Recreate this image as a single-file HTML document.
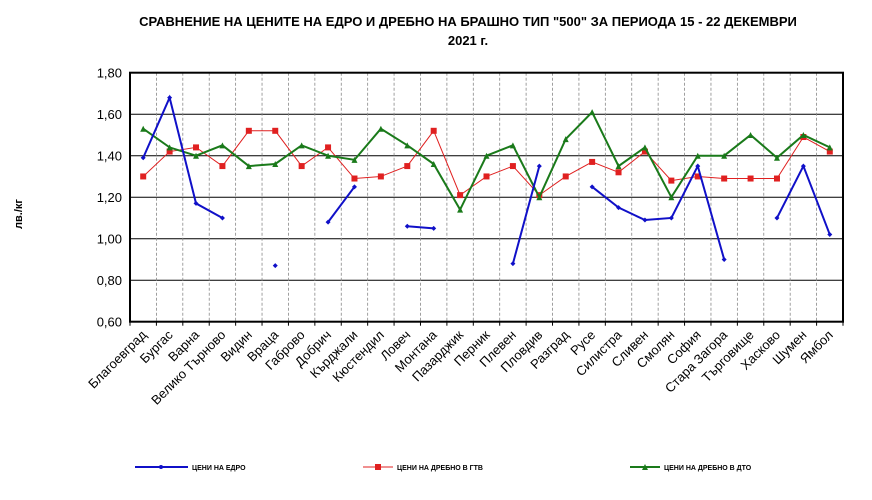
<!DOCTYPE html>
<html><head><meta charset="utf-8"><style>
body{margin:0;background:#fff;}
svg text{font-family:"Liberation Sans",Arial,sans-serif;}
</style></head><body>
<svg id="chart" width="872" height="495" xmlns="http://www.w3.org/2000/svg">
<text x="468" y="26" font-size="13" font-weight="bold" text-anchor="middle">СРАВНЕНИЕ НА ЦЕНИТЕ НА ЕДРО И ДРЕБНО НА БРАШНО ТИП "500" ЗА ПЕРИОДА 15 - 22 ДЕКЕМВРИ</text>
<text x="468" y="45" font-size="13" font-weight="bold" text-anchor="middle">2021 г.</text>
<text x="22" y="214" font-size="11" font-weight="bold" text-anchor="middle" transform="rotate(-90 22 214)">лв./кг</text>
<g id="grid"></g><g id="series"></g><g id="axes"></g>
<g font-size="7" font-weight="bold">
<line x1="135" y1="467" x2="188" y2="467" stroke="#1010c8" stroke-width="2"/><circle cx="161" cy="467" r="2" fill="#1010c8"/>
<text x="192" y="470">ЦЕНИ НА ЕДРО</text>
<line x1="363" y1="467" x2="393" y2="467" stroke="#e02020" stroke-width="1"/><rect x="375" y="464" width="6" height="6" fill="#e02020"/>
<text x="397" y="470">ЦЕНИ НА ДРЕБНО В ГТВ</text>
<line x1="630" y1="467" x2="660" y2="467" stroke="#1a7a1a" stroke-width="2"/><polygon points="645,464 648,470 642,470" fill="#1a7a1a"/>
<text x="664" y="470">ЦЕНИ НА ДРЕБНО В ДТО</text>
</g>
</svg>
<script>
const categories=["Благоевград","Бургас","Варна","Велико Търново","Видин","Враца","Габрово","Добрич","Кърджали","Кюстендил","Ловеч","Монтана","Пазарджик","Перник","Плевен","Пловдив","Разград","Русе","Силистра","Сливен","Смолян","София","Стара Загора","Търговище","Хасково","Шумен","Ямбол"];
const wholesale=[1.39,1.68,1.17,1.10,null,0.87,null,1.08,1.25,null,1.06,1.05,null,null,0.88,1.35,null,1.25,1.15,1.09,1.10,1.35,0.90,null,1.10,1.35,1.02];
const retailGTV=[1.30,1.42,1.44,1.35,1.52,1.52,1.35,1.44,1.29,1.30,1.35,1.52,1.21,1.30,1.35,1.21,1.30,1.37,1.32,1.42,1.28,1.30,1.29,1.29,1.29,1.49,1.42];
const retailDTO=[1.53,1.44,1.40,1.45,1.35,1.36,1.45,1.40,1.38,1.53,1.45,1.36,1.14,1.40,1.45,1.20,1.48,1.61,1.35,1.44,1.20,1.40,1.40,1.50,1.39,1.50,1.44];
const yTicks=[0.6,0.8,1.0,1.2,1.4,1.6,1.8];
const L=130,R=843,T=72.7,B=321.7,ymin=0.6,ymax=1.8;
const bw=(R-L)/categories.length;
const x=i=>L+bw*(i+0.5);
const y=v=>B-(v-ymin)/(ymax-ymin)*(B-T);
const NS="http://www.w3.org/2000/svg";
function mk(tag,attrs,parent){const e=document.createElementNS(NS,tag);for(const k in attrs)e.setAttribute(k,attrs[k]);document.getElementById(parent).appendChild(e);return e;}
yTicks.forEach(t=>{
 const l=mk('line',{x1:L,x2:R,y1:y(t),y2:y(t),stroke:'#000','stroke-width':1},'grid');
 
 
 const tx=mk('text',{x:L-8,y:y(t)+5,'font-size':13,'text-anchor':'end'},'axes');
 tx.textContent=t.toFixed(2).replace('.',',');
 
 
});
for(let i=1;i<categories.length;i++){
 const l=mk('line',{x1:L+bw*i,x2:L+bw*i,y1:T,y2:B,stroke:'#888','stroke-width':0.8,'stroke-dasharray':'3,2'},'grid');
 
 
}
for(let i=0;i<=categories.length;i++){mk('line',{x1:L+bw*i,x2:L+bw*i,y1:B,y2:B+4,stroke:'#000'},'axes');}
categories.forEach((c,i)=>{
 const tx=mk('text',{x:x(i)+4,y:B+14,'font-size':13,'text-anchor':'end',transform:`rotate(-45 ${x(i)+4} ${B+14})`},'axes');
 tx.textContent=c;
 
 
});
const fr=mk('rect',{x:L,y:T,width:R-L,height:B-T,fill:'none',stroke:'#000','stroke-width':2},'axes');


function drawSeries(vals,color,w,marker,name){
 let seg=[];
 const segs=[];
 vals.forEach((v,i)=>{if(v==null){if(seg.length)segs.push(seg);seg=[];}else seg.push([x(i),y(v)]);});
 if(seg.length)segs.push(seg);
 segs.forEach(s=>{if(s.length>1){const p=mk('polyline',{points:s.map(q=>q.join(',')).join(' '),fill:'none',stroke:color,'stroke-width':w},'series');
  
  }});
 vals.forEach((v,i)=>{if(v==null)return;let m;const cx=x(i),cy=y(v);
  if(marker==='sq')m=mk('rect',{x:cx-3,y:cy-3,width:6,height:6,fill:color},'series');
  else if(marker==='tri')m=mk('polygon',{points:`${cx},${cy-3} ${cx+3},${cy+3} ${cx-3},${cy+3}`,fill:color},'series');
  else m=mk('polygon',{points:`${cx},${cy-2.5} ${cx+2.5},${cy} ${cx},${cy+2.5} ${cx-2.5},${cy}`,fill:color},'series');
  
  });
}
drawSeries(retailGTV,'#e02020',1,'sq','retail-gtv');
drawSeries(retailDTO,'#1a7a1a',2,'tri','retail-dto');
drawSeries(wholesale,'#1010c8',2,'dia','wholesale');
</script>
</body></html>
